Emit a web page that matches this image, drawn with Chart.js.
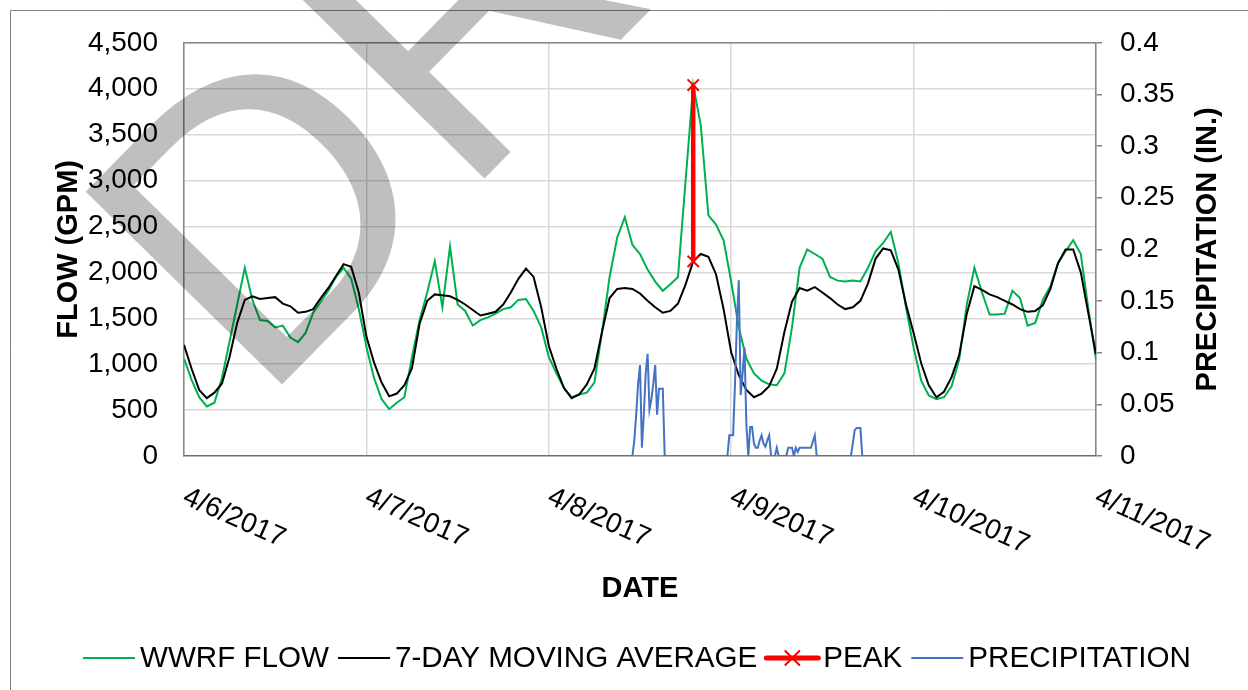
<!DOCTYPE html>
<html>
<head>
<meta charset="utf-8">
<script src="https://cdn.jsdelivr.net/npm/chart.js@4/dist/chart.umd.min.js"></script>
<style>
  body { margin: 0; background: #fff; }
  canvas { display: block; }
</style>
</head>
<body>
<canvas id="flowChart" width="1248" height="690"></canvas>
<script>
// x axis: hours after 4/6/2017 00:00, hourly readings
const dateLabels = ['4/6/2017', '4/7/2017', '4/8/2017', '4/9/2017', '4/10/2017', '4/11/2017'];
const flowHours = Array.from({ length: 121 }, (_, i) => i);

const wwrfFlow = [
  1060, 830, 640, 540, 580, 850, 1250, 1650, 2050, 1700, 1480, 1470, 1400, 1420, 1290, 1240,
  1340, 1560, 1680, 1800, 1950, 2050, 1930, 1600,
  1190, 850, 620, 510, 580, 640, 1080, 1480, 1780, 2120, 1620, 2280, 1650, 1580, 1420, 1480,
  1510, 1550, 1600, 1620, 1700, 1710, 1580, 1400,
  1080, 900, 740, 640, 670, 690, 800, 1350, 1950, 2380, 2600, 2300, 2200, 2030, 1900, 1800,
  1870, 1950, 3000, 4040, 3600, 2620, 2520, 2350,
  1900, 1400, 1060, 900, 820, 780, 770, 900, 1400, 2050, 2250, 2200, 2150, 1950, 1910, 1900,
  1910, 1900, 2050, 2230, 2320, 2440, 2100, 1620,
  1180, 820, 660, 620, 640, 760, 1050, 1650, 2050, 1780, 1540, 1540, 1550, 1800, 1720, 1420,
  1450, 1700, 1850, 2100, 2230, 2350, 2200, 1600,
  1050
];

const movingAverage = [
  1210, 950, 720, 630, 690, 790, 1080, 1450, 1700, 1740, 1710, 1720, 1730, 1660, 1630, 1560,
  1570, 1600, 1720, 1830, 1960, 2090, 2060, 1780,
  1300, 1020, 800, 650, 680, 770, 960, 1440, 1690, 1760, 1750, 1740, 1700, 1650, 1590, 1530,
  1550, 1570, 1650, 1780, 1930, 2040, 1950, 1620,
  1200, 950, 740, 630, 670, 780, 950, 1350, 1720, 1820, 1830, 1820, 1770, 1690, 1620, 1560,
  1580, 1660, 1870, 2120, 2200, 2170, 1980, 1600,
  1130, 880, 720, 640, 680, 760, 950, 1350, 1680, 1830, 1800, 1840, 1780, 1720, 1650, 1600,
  1620, 1690, 1880, 2150, 2260, 2240, 2030, 1650,
  1340, 1010, 770, 640, 700, 860, 1100, 1550, 1850, 1810, 1760, 1730, 1690, 1650, 1600, 1570,
  1580, 1640, 1820, 2100, 2250, 2250, 2000, 1550,
  1110
];

const peakHour = 67;
const peakValues = [4040, 2120];

// precipitation, 15 minute readings (zero outside the listed times)
const precipTimes = [
  '4/6 0:00',
  '4/8 11:00', '4/8 11:15', '4/8 11:30', '4/8 11:45', '4/8 12:00', '4/8 12:15', '4/8 12:30', '4/8 12:45',
  '4/8 13:00', '4/8 13:15', '4/8 13:30', '4/8 13:45', '4/8 14:00', '4/8 14:15', '4/8 14:30', '4/8 14:45',
  '4/8 15:00', '4/8 15:15',
  '4/8 23:30', '4/8 23:45', '4/9 0:00', '4/9 0:15', '4/9 0:30', '4/9 0:45', '4/9 1:00', '4/9 1:15',
  '4/9 1:30', '4/9 1:45', '4/9 2:00', '4/9 2:15', '4/9 2:30', '4/9 2:45', '4/9 3:00', '4/9 3:15',
  '4/9 3:30', '4/9 3:45', '4/9 4:00', '4/9 4:15', '4/9 4:30', '4/9 4:45', '4/9 5:00', '4/9 5:15',
  '4/9 5:45', '4/9 6:00', '4/9 6:15',
  '4/9 7:15', '4/9 7:30', '4/9 7:45', '4/9 8:00', '4/9 8:15', '4/9 8:30', '4/9 8:45', '4/9 9:00',
  '4/9 9:15', '4/9 9:30', '4/9 9:45', '4/9 10:00', '4/9 10:15', '4/9 10:30', '4/9 10:45', '4/9 11:00',
  '4/9 11:15',
  '4/9 15:45', '4/9 16:00', '4/9 16:15', '4/9 16:30', '4/9 16:45', '4/9 17:00', '4/9 17:15',
  '4/11 0:00'
];
const precipValues = [
  0,
  0, 0.015, 0.04, 0.07, 0.088, 0.008, 0.04, 0.08,
  0.099, 0.045, 0.055, 0.07, 0.088, 0.04, 0.065, 0.065,
  0.065, 0,
  0, 0.02, 0.02, 0.02, 0.07, 0.13, 0.17, 0.059,
  0.08, 0.105, 0.03, 0, 0.028, 0.028, 0.012, 0.008,
  0.008, 0.015, 0.02, 0.012, 0.009, 0.015, 0.02, 0,
  0, 0.008, 0,
  0, 0.008, 0.008, 0.008, 0, 0.008, 0.004, 0.008,
  0.008, 0.008, 0.008, 0.008, 0.008, 0.008, 0.014, 0.02,
  0,
  0, 0.012, 0.025, 0.027, 0.027, 0.027, 0,
  0
];

const FONT = '"Liberation Sans", Arial, sans-serif';
const GREEN = '#00B050', BLUE = '#4472C4', RED = '#FF0000';

function toHour(s) {
  const [md, hm] = s.split(' ');
  const day = +md.split('/')[1];
  const [hh, mm] = hm.split(':').map(Number);
  return (day - 6) * 24 + hh + mm / 60;
}

const drawExtras = {
  id: 'drawExtras',
  beforeDraw(chart) {
    const ctx = chart.ctx;
    ctx.save();
    ctx.strokeStyle = '#808080';
    ctx.lineWidth = 1;
    ctx.beginPath();
    ctx.moveTo(10.5, 690);
    ctx.lineTo(10.5, 10.5);
    ctx.lineTo(1248, 10.5);
    ctx.stroke();
    ctx.restore();
  },
  beforeDatasetsDraw(chart) {
    const ctx = chart.ctx, a = chart.chartArea;
    ctx.save();
    ctx.strokeStyle = '#868686';
    ctx.lineWidth = 1.5;
    ctx.beginPath();
    ctx.moveTo(a.left, a.top);
    ctx.lineTo(a.right, a.top);
    ctx.stroke();
    ctx.restore();
  },
  afterDraw(chart) {
    const ctx = chart.ctx, a = chart.chartArea, xs = chart.scales.x;
    ctx.save();
    ctx.fillStyle = '#000';

    // rotated date labels
    ctx.font = '28px ' + FONT;
    ctx.textAlign = 'left';
    ctx.textBaseline = 'top';
    dateLabels.forEach((lab, i) => {
      const px = xs.getPixelForValue(i * 24);
      ctx.save();
      ctx.translate(px + 6, a.bottom + 27);
      ctx.rotate(24 * Math.PI / 180);
      ctx.fillText(lab, 0, 0);
      ctx.restore();
    });

    // axis titles
    ctx.font = 'bold 29px ' + FONT;
    ctx.textAlign = 'center';
    ctx.textBaseline = 'alphabetic';
    ctx.fillText('DATE', (a.left + a.right) / 2, 597);
    ctx.save();
    ctx.translate(77, (a.top + a.bottom) / 2);
    ctx.rotate(-Math.PI / 2);
    ctx.fillText('FLOW (GPM)', 0, 0);
    ctx.restore();
    ctx.save();
    ctx.translate(1216, (a.top + a.bottom) / 2);
    ctx.rotate(-Math.PI / 2);
    ctx.fillText('PRECIPITATION (IN.)', 0, 0);
    ctx.restore();

    // legend
    const items = [
      { label: 'WWRF FLOW', color: GREEN, width: 2 },
      { label: '7-DAY MOVING AVERAGE', color: '#000', width: 2 },
      { label: 'PEAK', color: RED, width: 5, marker: true },
      { label: 'PRECIPITATION', color: BLUE, width: 2 }
    ];
    ctx.font = '29.6px ' + FONT;
    ctx.textAlign = 'left';
    let lx = 83;
    const ly = 658;
    items.forEach(it => {
      ctx.strokeStyle = it.color;
      ctx.lineWidth = it.width;
      ctx.lineCap = it.marker ? 'round' : 'butt';
      ctx.beginPath();
      ctx.moveTo(lx, ly);
      ctx.lineTo(lx + 52, ly);
      ctx.stroke();
      if (it.marker) {
        const cx = lx + 26, r = 7;
        ctx.lineWidth = 2;
        ctx.beginPath();
        ctx.moveTo(cx - r, ly - r); ctx.lineTo(cx + r, ly + r);
        ctx.moveTo(cx + r, ly - r); ctx.lineTo(cx - r, ly + r);
        ctx.stroke();
      }
      lx += 57;
      ctx.fillStyle = '#000';
      ctx.fillText(it.label, lx, 667);
      lx += ctx.measureText(it.label).width + 9;
    });

    // DRAFT watermark
    ctx.font = '400px ' + FONT;
    ctx.fillStyle = 'rgba(0,0,0,0.25)';
    ctx.translate(259, 408);
    ctx.rotate(-45.5 * Math.PI / 180);
    ctx.textAlign = 'left';
    ctx.fillText('DRAFT', 0, 0);
    ctx.restore();
  }
};

new Chart(document.getElementById('flowChart'), {
  type: 'line',
  data: {
    datasets: [
      {
        label: 'PEAK',
        data: peakValues.map(v => ({ x: peakHour, y: v })),
        borderColor: RED,
        borderWidth: 4.5,
        pointStyle: 'crossRot',
        pointRadius: 8,
        pointBorderWidth: 2,
        pointBorderColor: RED,
        yAxisID: 'y'
      },
      {
        label: 'PRECIPITATION',
        data: precipTimes.map((t, i) => ({ x: toHour(t), y: precipValues[i] })),
        borderColor: BLUE,
        borderWidth: 2,
        pointRadius: 0,
        yAxisID: 'y1'
      },
      {
        label: '7-DAY MOVING AVERAGE',
        data: flowHours.map((h, i) => ({ x: h, y: movingAverage[i] })),
        borderColor: '#000',
        borderWidth: 2,
        pointRadius: 0,
        yAxisID: 'y'
      },
      {
        label: 'WWRF FLOW',
        data: flowHours.map((h, i) => ({ x: h, y: wwrfFlow[i] })),
        borderColor: GREEN,
        borderWidth: 2,
        pointRadius: 0,
        yAxisID: 'y'
      }
    ]
  },
  options: {
    responsive: false,
    devicePixelRatio: 1,
    animation: false,
    layout: { padding: { top: 40, left: 0, right: 0, bottom: 0 } },
    font: { family: FONT },
    plugins: { legend: { display: false }, tooltip: { enabled: false } },
    scales: {
      x: {
        type: 'linear', min: 0, max: 120,
        ticks: { display: false, stepSize: 24 },
        grid: { color: '#d9d9d9', lineWidth: 1.5, drawTicks: false },
        border: { color: '#868686', width: 1.5 },
        afterFit(s) { s.height = 234; }
      },
      y: {
        position: 'left', min: 0, max: 4500,
        ticks: { stepSize: 500, color: '#000', padding: 26, font: { family: FONT, size: 28 },
          callback: v => v.toLocaleString('en-US') },
        grid: { color: '#d9d9d9', lineWidth: 1.5, drawTicks: false },
        border: { color: '#868686', width: 1.5 },
        afterFit(s) { s.width = 184; }
      },
      y1: {
        position: 'right', min: 0, max: 0.4,
        ticks: { stepSize: 0.05, color: '#000', padding: 18, font: { family: FONT, size: 28 },
          callback: v => String(+v.toFixed(2)) },
        grid: { drawOnChartArea: false, color: '#868686', tickLength: 6, lineWidth: 1.5 },
        border: { color: '#868686', width: 1.5 },
        afterFit(s) { s.width = 152; }
      }
    }
  },
  plugins: [drawExtras]
});
</script>
</body>
</html>
